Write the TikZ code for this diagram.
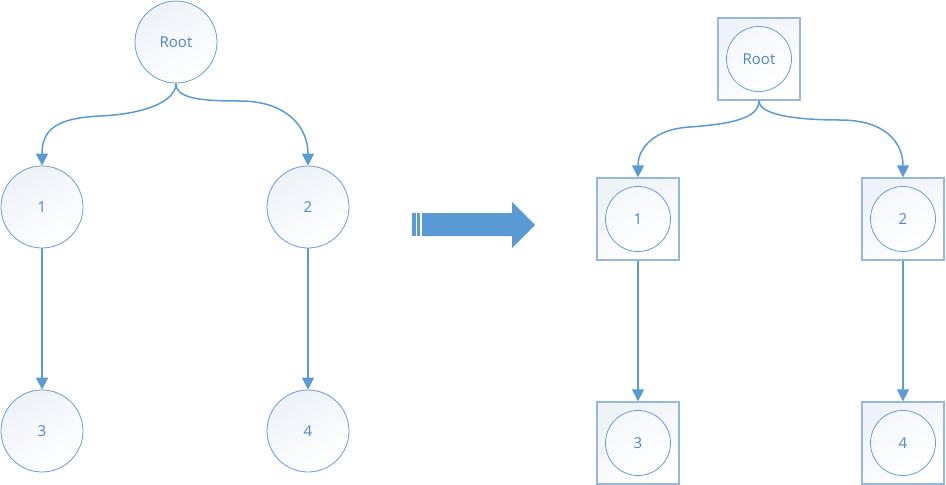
\documentclass[tikz,border=0pt]{standalone}
\usepackage{fontspec}
\setmainfont{Open Sans}
\usetikzlibrary{arrows.meta,positioning}
\definecolor{linie}{HTML}{5B9BD5}
\definecolor{rand}{HTML}{6C9BD2}
\definecolor{kasten}{HTML}{95B7E0}
\definecolor{schrift}{HTML}{4F86C6}
\definecolor{hell}{HTML}{EEF2F9}
\begin{document}
\begin{tikzpicture}[x=1pt,y=-1pt,
knoten/.style={circle, draw=rand, line width=0.8pt, minimum size=82pt, inner sep=0pt,
  shading=axis, top color=hell, bottom color=white, shading angle=30,
  text=schrift, font=\fontsize{15}{17}\selectfont},
innen/.style={circle, draw=rand, line width=0.8pt, minimum size=65pt, inner sep=0pt,
  shading=axis, top color=hell!60, bottom color=white, shading angle=30,
  text=schrift, font=\fontsize{15}{17}\selectfont},
box/.style={rectangle, draw=kasten, line width=1.4pt, minimum size=82pt, inner sep=0pt,
  shading=axis, top color=hell, bottom color=white, shading angle=30},
pfeil/.style={draw=linie, line width=1.5pt, -{Triangle[length=12pt,width=12pt]}}]
\useasboundingbox (0,0) rectangle (946,485);

\node[knoten] (root) at (176,42) {Root};
\node[knoten] (n1) at (42,207) {1};
\node[knoten] (n2) at (308,207) {2};
\node[knoten] (n3) at (42,431) {3};
\node[knoten] (n4) at (308,431) {4};
\coordinate (k1) at (100,116);
\coordinate (k2) at (240,101);
\draw[pfeil] (root.south) .. controls +(0,18) and +(45,-2) .. (k1)
  .. controls +(-45,2) and +(0,-35) .. (n1.north);
\draw[pfeil] (root.south) .. controls +(0,15) and +(-40,0) .. (k2)
  .. controls +(45,0) and +(0,-40) .. (n2.north);
\draw[pfeil] (n1) -- (n3);
\draw[pfeil] (n2) -- (n4);

\fill[linie] (422,213) -- (512,213) -- (512,202) -- (535,225) -- (512,248) -- (512,236) -- (422,236) -- cycle;
\fill[linie] (412,213) rectangle (416,236);
\fill[linie] (417,213) rectangle (420,236);

\node[box] (b0) at (759,59) {};
\node[box] (b1) at (638,219) {};
\node[box] (b2) at (903,219) {};
\node[box] (b3) at (638,443) {};
\node[box] (b4) at (903,443) {};
\node[innen] (c0) at (b0) {Root};
\node[innen] (c1) at (b1) {1};
\node[innen] (c2) at (b2) {2};
\node[innen] (c3) at (b3) {3};
\node[innen] (c4) at (b4) {4};
\coordinate (k3) at (690,127);
\coordinate (k4) at (840,120);
\draw[pfeil] (b0.south) .. controls +(0,18) and +(40,-3) .. (k3)
  .. controls +(-35,2) and +(0,-30) .. (b1.north);
\draw[pfeil] (b0.south) .. controls +(0,15) and +(-40,0) .. (k4)
  .. controls +(45,0) and +(0,-35) .. (b2.north);
\draw[pfeil] (b1) -- (b3);
\draw[pfeil] (b2) -- (b4);
\end{tikzpicture}
\end{document}
